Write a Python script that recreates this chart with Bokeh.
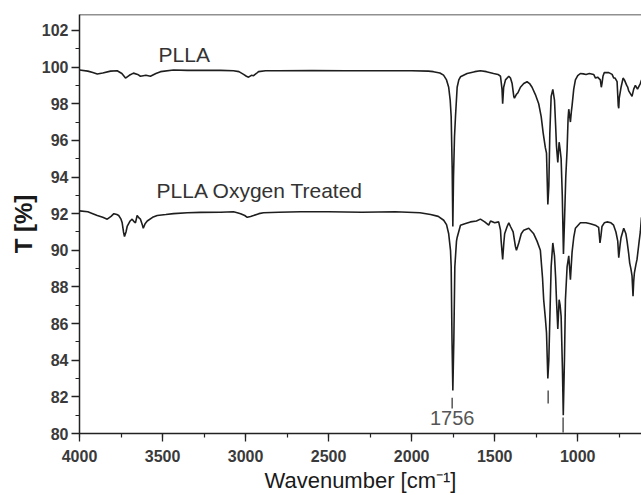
from bokeh.plotting import figure
from bokeh.models import Range1d, SingleIntervalTicker, Span, ColumnDataSource
from bokeh.core.properties import value
from bokeh.embed import file_html
from bokeh.resources import INLINE

# ---- data ----
top_w = [4000, 3950, 3920, 3893, 3860, 3813, 3773, 3745, 3723, 3700, 3675, 3650, 3633, 3600, 3573,
         3540, 3512, 3434, 3350, 3250, 3150, 3073, 3040, 3012, 2995, 2982, 2965, 2952, 2935, 2922,
         2880, 2800, 2600, 2400, 2200, 2000, 1900, 1869, 1830, 1808, 1790, 1777, 1768, 1762, 1756,
         1752, 1748, 1742, 1736, 1726, 1716, 1706, 1666, 1620, 1586, 1550, 1507, 1480, 1465, 1456,
         1452, 1446, 1435, 1415, 1405, 1395, 1385, 1381, 1370, 1360, 1345, 1325, 1305, 1290, 1275,
         1255, 1235, 1220, 1208, 1195, 1188, 1180, 1174, 1168, 1160, 1150, 1140, 1133, 1128, 1120,
         1112, 1106, 1100, 1093, 1086, 1080, 1072, 1064, 1058, 1054, 1044, 1038, 1034, 1024, 1014,
         1000, 984, 966, 950, 930, 904, 893, 880, 864, 858, 854, 848, 840, 813, 793, 783, 775, 763,
         756, 753, 750, 739, 727, 719, 705, 699, 693, 673, 663, 653, 640, 623, 616]
top_t = [99.84, 99.78, 99.7, 99.62, 99.68, 99.78, 99.8, 99.65, 99.4, 99.55, 99.67, 99.6, 99.5, 99.55, 99.5,
         99.65, 99.75, 99.84, 99.82, 99.83, 99.82, 99.8, 99.75, 99.6, 99.5, 99.45, 99.55, 99.53, 99.65, 99.75,
         99.8, 99.8, 99.81, 99.8, 99.8, 99.8, 99.78, 99.75, 99.68, 99.56, 99.3, 98.9, 98.2, 97.3, 94.5,
         91.3, 94.0, 96.2, 97.3, 98.9, 99.3, 99.47, 99.65, 99.75, 99.8, 99.75, 99.65, 99.6, 99.5, 98.8,
         98.0, 98.9, 99.3, 99.5, 99.4, 99.1, 98.4, 98.3, 98.5, 98.6, 98.9, 99.1, 99.2, 99.1, 98.9,
         98.5, 98.0, 97.3, 96.4, 95.6, 95.3, 92.5, 93.5, 96.4, 98.4, 98.78, 98.2, 96.8, 95.7, 94.8,
         95.9, 95.5, 95.0, 93.0, 89.8, 91.5, 94.0, 95.5, 97.2, 97.7, 97.0, 97.6, 97.9, 98.8, 99.3,
         99.53, 99.65, 99.63, 99.6, 99.65, 99.6, 99.4, 99.45, 99.3, 98.9, 99.1, 99.5, 99.7, 99.7, 99.6, 99.4, 99.4, 99.2,
         97.9, 97.75, 98.3, 98.9, 99.4, 99.3, 99.0, 98.9, 98.7, 98.4, 98.8, 99.0, 98.8, 99.1, 99.3]

bot_w = [4000, 3950, 3920, 3893, 3860, 3833, 3810, 3793, 3775, 3764, 3750, 3743, 3735, 3729, 3720,
         3713, 3695, 3683, 3670, 3663, 3653, 3640, 3633, 3622, 3616, 3605, 3592, 3560, 3532, 3480,
         3434, 3350, 3271, 3150, 3073, 3050, 3030, 3005, 2990, 2970, 2952, 2920, 2892, 2800, 2669,
         2500, 2300, 2100, 1950, 1886, 1840, 1807, 1790, 1777, 1766, 1762, 1757, 1752, 1746, 1740,
         1730, 1726, 1706, 1680, 1646, 1610, 1586, 1560, 1536, 1525, 1500, 1476, 1465, 1461, 1452,
         1445, 1440, 1425, 1415, 1405, 1389, 1375, 1369, 1355, 1340, 1325, 1295, 1265, 1245, 1225,
         1212, 1205, 1195, 1188, 1180, 1174, 1170, 1160, 1150, 1140, 1133, 1128, 1120, 1112, 1106,
         1100, 1092, 1087, 1080, 1074, 1064, 1054, 1044, 1034, 1024, 1014, 984, 950, 924, 890,
         874, 866, 860, 854, 840, 824, 800, 784, 770, 759, 753, 745, 739, 723, 710,
         703, 693, 687, 680, 673, 667, 663, 659, 650, 643, 630, 623, 616]
bot_t = [92.15, 92.1, 92.0, 91.9, 91.8, 91.7, 91.85, 92.0, 91.95, 91.9, 91.7, 91.5, 91.0, 90.75, 91.0,
         91.3, 91.6, 91.7, 91.55, 91.5, 91.9, 91.75, 91.7, 91.4, 91.2, 91.45, 91.6, 91.8, 91.9, 91.95,
         92.0, 92.05, 92.07, 92.08, 92.1, 92.05, 92.0, 91.9, 91.8, 91.85, 91.9, 92.0, 92.05, 92.08, 92.1,
         92.1, 92.08, 92.1, 92.05, 91.95, 91.85, 91.64, 91.4, 90.9, 90.0, 89.1, 85.1, 82.35, 85.1, 89.1,
         90.5, 90.7, 91.37, 91.45, 91.55, 91.6, 91.7, 91.55, 91.37, 91.6, 91.5, 91.55, 91.1, 90.5, 89.5,
         90.4, 90.9, 91.3, 91.5, 91.3, 91.0, 90.2, 90.0, 90.4, 90.9, 91.1, 91.2, 90.9, 90.5, 90.0,
         88.5, 87.3, 86.3, 85.5, 83.0, 84.0, 85.5, 89.1, 90.4, 89.7, 88.5, 87.3, 85.7, 87.3, 87.0,
         86.4, 83.5, 81.0, 84.0, 87.3, 89.1, 89.7, 88.4, 89.9, 90.7, 91.2, 91.5, 91.5, 91.45, 91.35,
         91.25, 90.4, 90.8, 91.3, 91.5, 91.55, 91.5, 91.37, 91.0, 90.5, 89.6, 90.3, 90.7, 91.2, 90.9,
         90.5, 89.8, 89.3, 89.0, 88.6, 87.5, 88.3, 88.75, 89.2, 89.5, 90.5, 91.0, 91.8]

series_labels = ["PLLA", "PLLA Oxygen Treated"]
series_label_x = [3524, 3536]
series_label_y = [100.7, 93.25]

peak_marker_x = [1756, 1178, 1088]
peak_marker_y0 = [81.37, 81.64, 80.05]
peak_marker_y1 = [81.95, 82.35, 80.87]
peak_label = ["1756"]
peak_label_x = [1756]
peak_label_y = [80.85]

x_start, x_end = 4000, 616
y_start, y_end = 80, 102.87

# ---- figure ----
p = figure(width=641, height=495, x_range=Range1d(x_start, x_end), y_range=Range1d(y_start, y_end),
           output_backend="svg", toolbar_location=None,
           min_border_left=79, min_border_right=0, min_border_top=14, min_border_bottom=62)
p.outline_line_color = None
p.grid.visible = False
p.background_fill_color = "white"
p.border_fill_color = "white"

p.add_layout(Span(location=y_end, dimension="width", line_color="#222222", line_width=1.5))

p.xaxis.ticker = SingleIntervalTicker(interval=500, num_minor_ticks=2)
p.yaxis.ticker = SingleIntervalTicker(interval=2, num_minor_ticks=2)

for ax in (p.xaxis[0], p.yaxis[0]):
    ax.axis_line_color = "#222222"
    ax.axis_line_width = 1.5
    ax.major_tick_line_color = "#222222"
    ax.minor_tick_line_color = "#222222"
    ax.major_tick_line_width = 1.3
    ax.minor_tick_line_width = 1.2
    ax.major_tick_in = 0
    ax.minor_tick_in = 0
    ax.major_tick_out = 8
    ax.minor_tick_out = 4
    ax.major_label_text_font = "Liberation Sans"
    ax.major_label_text_font_style = "bold"
    ax.major_label_text_font_size = "16px"
    ax.major_label_text_color = "#3a3a3a"
    ax.axis_label_text_font = "Liberation Sans"
    ax.axis_label_text_color = "#1a1a1a"

p.xaxis.major_label_standoff = 8
p.yaxis.major_label_standoff = 3

p.xaxis.axis_label = "Wavenumber [cm⁻¹]"
p.xaxis.axis_label_text_font_size = "22px"
p.xaxis.axis_label_text_font_style = "normal"
p.xaxis.axis_label_standoff = 3

p.yaxis.axis_label = "T [%]"
p.yaxis.axis_label_text_font_size = "24px"
p.yaxis.axis_label_text_font_style = "bold"
p.yaxis.axis_label_standoff = 2

p.line(top_w, top_t, line_color="#1e1e1e", line_width=1.6)
p.line(bot_w, bot_t, line_color="#1e1e1e", line_width=1.6)

p.segment(x0=peak_marker_x, y0=peak_marker_y0, x1=peak_marker_x, y1=peak_marker_y1,
          line_color="#555555", line_width=1.5)

lab_src = ColumnDataSource(dict(x=series_label_x, y=series_label_y, t=series_labels))
p.text(x="x", y="y", text="t", source=lab_src, text_font=value("Liberation Sans"),
       text_font_size="21px", text_color="#333333", text_baseline="alphabetic", text_align="left")

pk_src = ColumnDataSource(dict(x=peak_label_x, y=peak_label_y, t=peak_label))
p.text(x="x", y="y", text="t", source=pk_src, text_font=value("Liberation Sans"),
       text_font_size="20px", text_color="#555555", text_baseline="alphabetic", text_align="center")

open("out.html", "w").write(file_html(p, INLINE))
